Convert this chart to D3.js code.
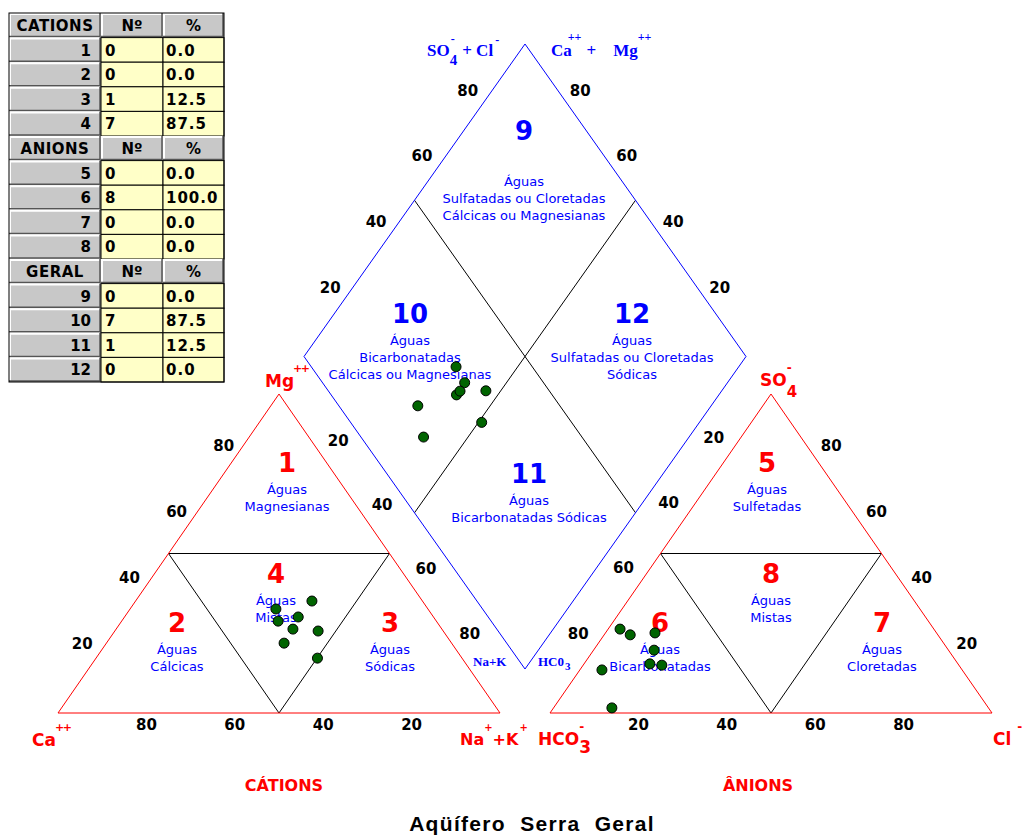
<!DOCTYPE html>
<html><head><meta charset="utf-8">
<script src="https://cdn.jsdelivr.net/npm/d3@7"></script>
<style>body{margin:0;background:#fff}svg{display:block}</style>
</head><body>
<svg id="c" width="1023" height="835"></svg>
<script>
// ---------------- DATA ----------------
const sampleIds = [1, 2, 3, 4, 5, 6, 7, 8];
// cations (% meq)
const mgPct  = [32.6, 30.1, 17.2, 25.7, 28.8, 35.1, 26.3, 21.9];
const naKPct = [33.0, 39.3, 50.1, 46.0, 35.4, 39.9, 40.0, 40.2];
const caPct  = [34.4, 30.6, 32.7, 28.3, 35.8, 25.0, 33.7, 37.9];
// anions (% meq)
const so4Pct  = [13.5, 1.6, 15.4, 25.1, 19.7, 15.0, 26.3, 24.5];
const clPct   = [5.0, 13.2, 14.9, 11.2, 13.7, 17.8, 2.7, 5.9];
const hco3Pct = [81.5, 85.2, 69.7, 63.7, 66.6, 67.2, 71.0, 69.6];

const tickValues = [20, 40, 60, 80];

const cationZones = ["1", "2", "3", "4"];
const cationCounts = ["0", "0", "1", "7"];
const cationPercents = ["0.0", "0.0", "12.5", "87.5"];
const anionZones = ["5", "6", "7", "8"];
const anionCounts = ["0", "8", "0", "0"];
const anionPercents = ["0.0", "100.0", "0.0", "0.0"];
const geralZones = ["9", "10", "11", "12"];
const geralCounts = ["0", "7", "1", "0"];
const geralPercents = ["0.0", "87.5", "12.5", "0.0"];
const tableHeaders = ["CATIONS", "ANIONS", "GERAL"];

// ---------------- GEOMETRY ----------------
const svg = d3.select("#c");
const side = 442, triH = 319, baseY = 713;
const xL = d3.scaleLinear().domain([0, 100]).range([58, 58 + side]);
const xR = d3.scaleLinear().domain([0, 100]).range([550, 550 + side]);
const yT = d3.scaleLinear().domain([0, 100]).range([baseY, baseY - triH]);
const dCx = 525, dBot = 669, dHalf = 312.5;
const xD = d3.scaleLinear().domain([-100, 100]).range([dCx - side / 2, dCx + side / 2]);
const yD = d3.scaleLinear().domain([0, 200]).range([dBot, dBot - 2 * dHalf]);
// projected sample points sit slightly lower in the original plot
const yDp = d3.scaleLinear().domain([0, 200]).range([dBot + 4, dBot + 4 - 2 * dHalf]);

const cat = (mg, na) => [xL(na + mg / 2), yT(mg)];
const an = (so4, cl) => [xR(cl + so4 / 2), yT(so4)];
const dia = (u, w) => [xD(w - u), yD(u + w)]; // u = 100-Na, w = 100-HCO3
const diaP = (u, w) => [xD(w - u), yDp(u + w)];

const RED = "#ff0000", BLUE = "#0000ff";
const line = d3.line();

function poly(pts, color, close) {
  svg.append("path").attr("d", line(pts) + (close ? "Z" : ""))
    .attr("fill", "none").attr("stroke", color).attr("stroke-width", 1);
}

// inner lines
poly([cat(50, 0), cat(50, 50)], "#000");
poly([cat(50, 0), cat(0, 50), cat(50, 50)], "#000");
poly([an(50, 0), an(50, 50)], "#000");
poly([an(50, 0), an(0, 50), an(50, 50)], "#000");
poly([dia(50, 0), dia(50, 100)], "#000");
poly([dia(0, 50), dia(100, 50)], "#000");
// outlines
poly([cat(0, 0), cat(0, 100), cat(100, 0)], RED, true);
poly([an(0, 0), an(0, 100), an(100, 0)], RED, true);
poly([dia(0, 0), dia(100, 0), dia(100, 100), dia(0, 100)], BLUE, true);

// ---------------- TEXT HELPERS ----------------
function txt(x, y, s, o) {
  o = o || {};
  const t = svg.append("text").attr("x", x).attr("y", y).text(s)
    .attr("font-family", o.font || "DejaVu Sans")
    .attr("font-size", o.size || 13)
    .attr("font-weight", o.weight || "normal")
    .attr("fill", o.color || "#000")
    .attr("text-anchor", o.anchor || "middle");
  if (o.ls) t.attr("letter-spacing", o.ls);
  if (o.pre) t.style("white-space", "pre");
  return t;
}
// rich text: one text element made of tspans (super/subscripts)
function rich(x, y, parts, o) {
  const t = svg.append("text").attr("x", x).attr("y", y)
    .attr("font-family", o.font).attr("font-weight", "bold")
    .attr("fill", o.color).attr("font-size", o.size)
    .style("white-space", "pre");
  parts.forEach(p => {
    const s = t.append("tspan").text(p.t);
    if (p.size) s.attr("font-size", p.size);
    if (p.dx) s.attr("dx", p.dx);
    if (p.dy) s.attr("dy", p.dy);
    if (p.ls) s.attr("letter-spacing", p.ls);
  });
  return t;
}
const tickStyle = { size: 15, weight: "bold", font: "DejaVu Sans" };
const lerp = (a, b, v) => a + (b - a) * (v - 20) / 60;
function tick(p, v, o20, o80) {
  txt(p[0] + lerp(o20[0], o80[0], v), p[1] + lerp(o20[1], o80[1], v) + 5.5, String(v), tickStyle);
}

// ---------------- TICKS ----------------
tickValues.forEach(v => {
  tick(cat(v, 0), v, [-20, -6], [-11, -12]);               // Mg (left edge)
  tick(cat(0, 100 - v), v, [0, 11], [0, 11]);             // Ca (base)
  tick(an(v, 100 - v), v, [19, -6], [16, -12]);           // SO4 (right edge)
  tick(an(0, v), v, [0, 11], [0, 11]);                    // Cl (base)
  tick(dia(100, v), v, [-18, -7], [-13, -16.5]);          // SO4+Cl
  tick(dia(v, 100), v, [18, -7], [11, -16.5]);            // Ca+Mg
  tick(dia(100 - v, 0), v, [-10, 21], [-11, 26.5]);       // Na+K
  tick(dia(0, 100 - v), v, [12, 18], [9, 26.5]);          // HCO3
});

// ---------------- CORNER LABELS ----------------
const cl = { size: 17, color: RED, font: "DejaVu Sans" };
rich(265, 387, [{ t: "Mg" }, { t: "++", size: 11, dx: -1, dy: -15, ls: -1.5 }], cl);
rich(32, 746, [{ t: "Ca" }, { t: "++", size: 11, dx: -1, dy: -15, ls: -1.5 }], cl);
rich(460, 745, [{ t: "Na" }, { t: "+", size: 10, dy: -14 }, { t: "+K", size: 16, dy: 14 }, { t: "+", size: 10, dx: 1, dy: -14 }], { size: 16, color: RED, font: "DejaVu Sans" });
rich(538, 745, [{ t: "HCO" }, { t: "-", size: 12, dy: -14 }, { t: "3", dx: -5, dy: 22 }], cl);
rich(993, 745, [{ t: "Cl" }, { t: "-", size: 12, dx: 6, dy: -14 }], cl);
rich(760, 386, [{ t: "SO" }, { t: "-", size: 12, dy: -14 }, { t: "4", size: 15, dx: -5, dy: 25 }], cl);

// diamond top labels (blue serif)
const bl = { size: 17, color: BLUE, font: "Liberation Serif" };
rich(427, 56, [{ t: "SO" }, { t: "-", size: 12, dx: 1, dy: -13 }, { t: "4", size: 15, dx: -5, dy: 22 }, { t: "+ Cl", dx: 5, dy: -9 }, { t: "-", size: 12, dx: 2, dy: -12 }], bl);
rich(551, 56, [{ t: "Ca" }, { t: "++", size: 12, dx: -4, dy: -15 }, { t: "+", dx: 5, dy: 15 }, { t: "Mg", dx: 17 }, { t: "++", size: 12, dy: -15 }], bl);
const bs = { size: 13, color: BLUE, font: "Liberation Serif" };
rich(473, 666, [{ t: "Na+K" }], bs);
rich(538, 666, [{ t: "HC0" }, { t: "3", size: 11, dx: 1, dy: 4 }], bs);

// ---------------- ZONE LABELS ----------------
function zone(x, y, num, color, lines, gap) {
  txt(x, y, num, { size: 26, weight: "bold", color: color });
  lines.forEach((l, i) => txt(x, y + (gap || 22) + 17 * i, l, { size: 13, color: BLUE, pre: true }));
}
zone(287, 472, "1", RED, ["Águas", "Magnesianas"]);
zone(177, 632, "2", RED, ["Águas", "Cálcicas"]);
zone(390, 632, "3", RED, ["Águas", "Sódicas"]);
zone(276, 583, "4", RED, ["Águas", "Mistas"]);
zone(767, 472, "5", RED, ["Águas", "Sulfetadas"]);
zone(660, 632, "6", RED, ["Águas", "Bicarbonatadas"]);
zone(882, 632, "7", RED, ["Águas", "Cloretadas"]);
zone(771, 583, "8", RED, ["Águas", "Mistas"]);
zone(524, 140, "9", BLUE, ["Águas", "Sulfatadas ou Cloretadas", "Cálcicas ou Magnesianas"], 46);
zone(410, 323, "10", BLUE, ["Águas", "Bicarbonatadas", "Cálcicas ou Magnesianas"]);
zone(632, 323, "12", BLUE, ["Águas", "Sulfatadas ou Cloretadas", "Sódicas"]);
zone(529, 483, "11", BLUE, ["Águas", "Bicarbonatadas Sódicas"]);

// ---------------- POINTS ----------------
const pts = sampleIds.map((id, i) => ({
  c: cat(mgPct[i], naKPct[i]),
  a: an(so4Pct[i], clPct[i]),
  d: diaP(100 - naKPct[i], 100 - hco3Pct[i])
}));
["c", "a", "d"].forEach(k => {
  svg.append("g").selectAll("circle").data(pts).join("circle")
    .attr("cx", d => d[k][0]).attr("cy", d => d[k][1]).attr("r", 5)
    .attr("fill", "#006400").attr("stroke", "#000").attr("stroke-width", 1);
});

// ---------------- BOTTOM LABELS ----------------
txt(284, 791, "CÁTIONS", { size: 16, weight: "bold", color: RED });
txt(758, 791, "ÂNIONS", { size: 16, weight: "bold", color: RED });
txt(532, 831, "Aqüífero  Serra  Geral", { size: 21, weight: "bold", font: "Liberation Sans", ls: 1.3, pre: true });

// ---------------- TABLE ----------------
const tX = [9, 101, 163, 224], tTop = 13, rowH = 24.6;
const GRAY = "#c8c8c8", YEL = "#ffffc8";
const sections = [
  [tableHeaders[0], cationZones, cationCounts, cationPercents],
  [tableHeaders[1], anionZones, anionCounts, anionPercents],
  [tableHeaders[2], geralZones, geralCounts, geralPercents]
];
const tg = svg.append("g");
function bevel(x0, y0, x1, y1) {
  tg.append("rect").attr("x", x0).attr("y", y0).attr("width", x1 - x0).attr("height", y1 - y0).attr("fill", GRAY);
  tg.append("path").attr("d", `M${x0 + 1},${y1 - 1}V${y0 + 1}H${x1 - 1}`).attr("stroke", "#fff").attr("stroke-width", 2).attr("fill", "none");
  tg.append("path").attr("d", `M${x0},${y1 - 1}H${x1 - 1}V${y0}`).attr("stroke", "#555").attr("stroke-width", 1.5).attr("fill", "none");
}
const tf = { size: 15, weight: "bold", font: "DejaVu Sans" };
let r = 0;
sections.forEach(sec => {
  const y0 = tTop + r * rowH, y1 = y0 + rowH;
  bevel(tX[0], y0, tX[1], y1); bevel(tX[1], y0, tX[2], y1); bevel(tX[2], y0, tX[3], y1);
  txt((tX[0] + tX[1]) / 2, y0 + 18, sec[0], Object.assign({ ls: 0.5 }, tf));
  txt((tX[1] + tX[2]) / 2, y0 + 18, "Nº", tf);
  txt((tX[2] + tX[3]) / 2, y0 + 18, "%", tf);
  r++;
  sec[1].forEach((z, i) => {
    const ya = tTop + r * rowH, yb = ya + rowH;
    bevel(tX[0], ya, tX[1], yb);
    tg.append("rect").attr("x", tX[1]).attr("y", ya).attr("width", tX[2] - tX[1]).attr("height", rowH).attr("fill", YEL).attr("stroke", "#000").attr("stroke-width", 1);
    tg.append("rect").attr("x", tX[2]).attr("y", ya).attr("width", tX[3] - tX[2]).attr("height", rowH).attr("fill", YEL).attr("stroke", "#000").attr("stroke-width", 1);
    txt(tX[1] - 10, ya + 18, z, Object.assign({ anchor: "end" }, tf));
    txt(tX[1] + 4, ya + 18, sec[2][i], Object.assign({ anchor: "start", ls: 1 }, tf));
    txt(tX[2] + 3, ya + 18, sec[3][i], Object.assign({ anchor: "start", ls: 1 }, tf));
    r++;
  });
});
tg.append("rect").attr("x", tX[0]).attr("y", tTop).attr("width", tX[3] - tX[0]).attr("height", rowH * 15)
  .attr("fill", "none").attr("stroke", "#000").attr("stroke-width", 1);
</script>
</body></html>
